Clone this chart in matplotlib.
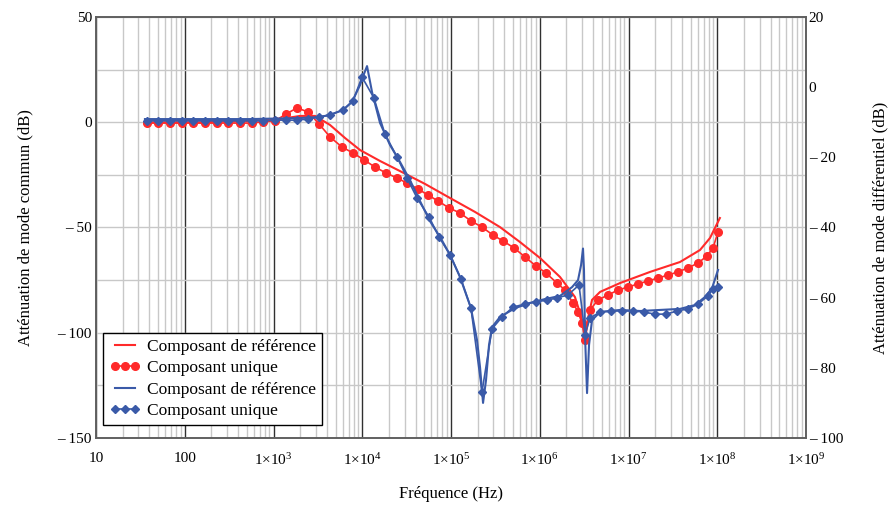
import matplotlib.pyplot as plt
from matplotlib.ticker import FixedLocator, FuncFormatter, NullFormatter

plt.rcParams['font.family'] = ['Liberation Serif', 'DejaVu Serif']
plt.rcParams['mathtext.fontset'] = 'custom'
plt.rcParams['mathtext.rm'] = 'Liberation Serif'
plt.rcParams['mathtext.it'] = 'Liberation Serif'

# mode commun (left axis), reference curve
cm_ref_f = [35.6, 149, 543, 1183, 1990, 2937, 4335, 6400, 9440, 15850, 26600,
            50900, 97500, 186200, 356000, 598000, 1.007e6, 1.69e6, 2.49e6,
            2.84e6, 3.24e6, 3.50e6, 3.88e6, 4.78e6, 8.02e6, 1.75e7, 3.80e7,
            6.39e7, 8.28e7, 1.07e8]
cm_ref_db = [0, 0, 0.6, 1.5, 3.0, 3.0, -1.3, -7.5, -13.2, -18.4, -23.2,
             -29.3, -36.0, -42.6, -49.8, -56.9, -64.5, -73.5, -83.0,
             -90.6, -100.1, -93.0, -84.4, -80.6, -76.4, -71.1, -66.4,
             -60.7, -55.0, -45.5]

# mode commun, single component (markers)
cm_uni_f = [37.6, 50.6, 68.2, 93.1, 124, 169, 231, 307, 419, 573, 762, 1040,
            1384, 1841, 2449, 3259, 4335, 5918, 7870, 10470, 13930, 18530,
            24660, 31940, 42490, 55040, 71400, 94900, 126200, 167900, 223300,
            297000, 385300, 512600, 682000, 907000, 1.175e6, 1.563e6, 1.923e6,
            2.37e6, 2.70e6, 2.99e6, 3.24e6, 3.68e6, 4.53e6, 5.87e6, 7.61e6,
            9.87e6, 1.28e7, 1.66e7, 2.15e7, 2.79e7, 3.61e7, 4.68e7, 6.07e7,
            7.67e7, 8.96e7, 1.02e8]
cm_uni_db = [-0.4, -0.4, -0.4, -0.4, -0.4, -0.4, -0.4, -0.4, -0.4, -0.4, 0.2, 0.6,
             3.9, 6.8, 4.9, -0.8, -7.0, -11.8, -14.6, -17.9, -21.3, -24.1,
             -26.5, -28.9, -31.7, -34.6, -37.4, -40.7, -43.1, -46.9, -49.8,
             -53.6, -56.4, -59.7, -64.0, -68.3, -71.6, -76.4, -79.7,
             -85.9, -90.1, -95.4, -103.4, -89.2, -84.4, -82.1, -79.7,
             -78.3, -76.8, -75.4, -74.0, -72.6, -71.1, -69.2, -66.9,
             -63.5, -59.7, -52.1]

# mode differentiel (right axis), reference curve
dm_ref_f = [35.6, 149, 543, 1990, 3340, 4335, 6070, 7670, 9440, 10470, 11320,
            12890, 15850, 20550, 26600, 34500, 44770, 57980, 75160, 97500,
            126200, 167900, 196300, 212300, 229600, 248000, 268000, 289600,
            356400, 526000, 776000, 1.146e6, 1.69e6, 2.31e6, 2.70e6, 2.92e6,
            3.07e6, 3.15e6, 3.24e6, 3.41e6, 3.59e6, 3.88e6, 4.78e6, 8.02e6,
            1.349e7, 2.265e7, 3.80e7, 5.61e7, 7.28e7, 8.73e7, 1.02e8]
dm_ref_db = [-9.1, -9.1, -9.1, -8.8, -8.5, -7.9, -6.5, -4.2, 0.6, 3.8, 6.0,
             -1.4, -10.2, -16.5, -21.3, -26.5, -32.5, -38.2, -42.7, -47.8,
             -54.1, -63.0, -72.1, -79.8, -90.0, -83.5, -73.5, -68.4,
             -65.5, -63.0, -61.5, -60.4, -59.5, -57.0, -55.0, -50.7,
             -46.0, -52.1, -71.2, -87.2, -73.5, -66.4, -64.1, -63.5,
             -63.8, -63.5, -63.2, -62.1, -59.8, -57.3, -52.1]

# mode differentiel, single component (markers)
dm_uni_f = [37.6, 50.6, 68.2, 93.1, 124, 169, 231, 307, 419, 573, 762, 1040,
            1384, 1841, 2449, 3259, 4335, 6070, 7870, 9930, 13550, 18030,
            24660, 31940, 41400, 56500, 73300, 97500, 129700, 167900, 223300,
            289600, 375600, 500000, 682000, 907000, 1.207e6, 1.563e6, 2.08e6,
            2.77e6, 3.24e6, 3.68e6, 4.78e6, 6.35e6, 8.45e6, 1.124e7, 1.496e7,
            1.99e7, 2.65e7, 3.52e7, 4.68e7, 6.07e7, 7.87e7, 8.96e7, 1.02e8]
dm_uni_db = [-9.6, -9.6, -9.6, -9.6, -9.6, -9.6, -9.6, -9.6, -9.6, -9.6, -9.6, -9.4,
             -9.4, -9.4, -9.1, -8.5, -7.9, -6.5, -3.9, 2.9, -3.1, -13.4,
             -19.9, -25.9, -31.6, -37.0, -42.7, -47.8, -54.7, -63.0, -86.9,
             -68.9, -65.5, -62.7, -61.8, -61.2, -60.7, -60.1, -59.2,
             -56.4, -70.6, -65.8, -64.1, -63.8, -63.8, -63.8, -64.1,
             -64.7, -64.7, -63.8, -63.2, -61.8, -59.5, -57.5, -57.0]

x_ticks = [1e1, 1e2, 1e3, 1e4, 1e5, 1e6, 1e7, 1e8, 1e9]
x_labels = ['10', '100', r'1×10$^{3}$', r'1×10$^{4}$', r'1×10$^{5}$',
            r'1×10$^{6}$', r'1×10$^{7}$', r'1×10$^{8}$', r'1×10$^{9}$']

red = '#ff2a2a'
blue = '#3a5aa8'


def dash_minus(v, pos):
    v = int(round(v))
    return '– %d' % -v if v < 0 else '%d' % v


fig = plt.figure(figsize=(8.93, 5.07), dpi=100)
ax = fig.add_axes([0.1075, 0.1361, 0.7951, 0.8304])
ax2 = ax.twinx()

l1, = ax.plot(cm_ref_f, cm_ref_db, color=red, lw=1.5, zorder=4)
l2, = ax.plot(cm_uni_f, cm_uni_db, color=red, lw=1.2, marker='o', ms=5.5,
              mec=red, zorder=4)
l3, = ax2.plot(dm_ref_f, dm_ref_db, color=blue, lw=1.5, zorder=3)
l4, = ax2.plot(dm_uni_f, dm_uni_db, color=blue, lw=1.2, marker='D', ms=4,
               mec=blue, zorder=3)

ax.set_xscale('log')
ax.set_xlim(10, 1e9)
ax.set_ylim(-150, 50)
ax2.set_ylim(-100, 20)

ax.set_xticks(x_ticks)
ax.set_xticklabels(x_labels)
ax.xaxis.set_minor_formatter(NullFormatter())
ax.set_yticks([50, 0, -50, -100, -150])
ax.yaxis.set_major_formatter(FuncFormatter(dash_minus))
ax.yaxis.set_minor_locator(FixedLocator([25, -25, -75, -125]))
ax2.set_yticks([20, 0, -20, -40, -60, -80, -100])
ax2.yaxis.set_major_formatter(FuncFormatter(dash_minus))

ax.tick_params(axis='x', which='both', length=0, labelsize=11, pad=10)
ax.tick_params(axis='y', which='both', length=0, labelsize=11, pad=3)
ax2.tick_params(axis='y', which='both', length=0, labelsize=11, pad=2)

ax.grid(True, which='minor', axis='x', color='#c8c8c8', lw=1)
ax.grid(True, which='major', axis='x', color='#303030', lw=1)
ax.grid(True, which='both', axis='y', color='#c8c8c8', lw=1)
ax.set_axisbelow(True)

for a in (ax, ax2):
    for s in a.spines.values():
        s.set_color('#606060')
        s.set_linewidth(1.2)

ax.set_xlabel('Fréquence (Hz)', fontsize=12, labelpad=13)
ax.set_ylabel('Atténuation de mode commun (dB)', fontsize=12, labelpad=17)
ax2.set_ylabel('Atténuation de mode différentiel (dB)', fontsize=12, labelpad=21)

leg = ax2.legend([l1, l2, l3, l4],
                 ['Composant de référence', 'Composant unique',
                  'Composant de référence', 'Composant unique'],
                 loc='lower left', bbox_to_anchor=(0.003, 0.018), fontsize=12.5,
                 numpoints=3, handlelength=1.8, handletextpad=0.35,
                 borderpad=0.35, labelspacing=0.3, borderaxespad=0.3,
                 fancybox=False, framealpha=1)
leg.get_frame().set_edgecolor('black')
leg.get_frame().set_linewidth(1)

fig.savefig('out.png', dpi=100)
